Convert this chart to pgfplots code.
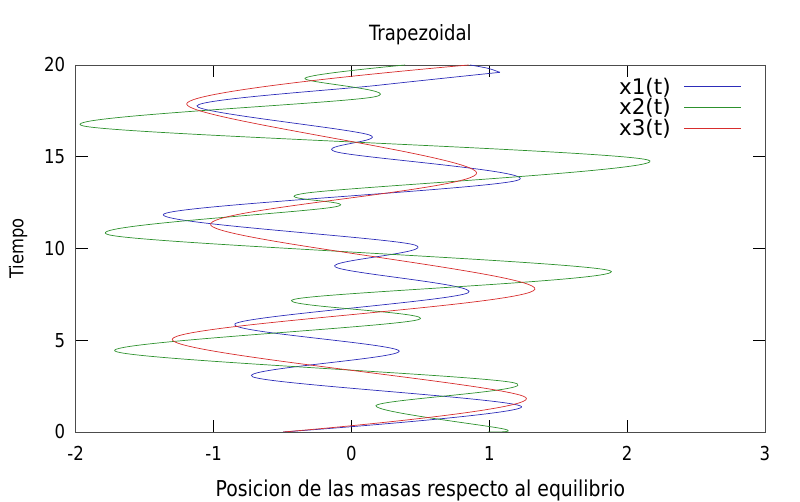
\documentclass[border=0pt]{standalone}
\usepackage{fontspec}
\setmainfont{DejaVu Sans}[FakeStretch=0.86]
\newfontfamily\legfont{DejaVu Sans}
\usepackage{pgfplots}
\pgfplotsset{compat=1.18}
\definecolor{cx1}{RGB}{45,45,185}
\definecolor{cx2}{RGB}{45,145,45}
\definecolor{cx3}{RGB}{215,45,45}
\pgfplotsset{
  legend image code/.code={\path (0pt,0pt); \draw[#1] (11.5pt,0pt) -- (68.5pt,0pt);},
}
\begin{document}
\begin{tikzpicture}
\useasboundingbox (0,0) rectangle (800pt,502pt);
\begin{axis}[
  at={(75.7pt,70pt)}, anchor=south west,
  scale only axis, width=689.3pt, height=367pt,
  xmin=-2, xmax=3, ymin=0, ymax=20,
  xtick={-2,-1,0,1,2,3}, ytick={0,5,10,15,20},
  tick align=inside, major tick length=12pt,
  axis line style={black!70, line width=0.8pt},
  every tick/.style={black, line width=0.6pt},
  /pgf/number format/assume math mode=true,
  ticklabel style={font=\fontsize{19.2}{19.2}\selectfont},
  xticklabel style={yshift=-11pt},
  yticklabel style={xshift=-7pt},
  title={Trapezoidal},
  title style={at={(axis description cs:0.5,1.065)}, anchor=center, font=\fontsize{21}{21}\selectfont},
  xlabel={Posicion de las masas respecto al equilibrio},
  xlabel style={at={(axis description cs:0.5,-0.158)}, anchor=center, font=\fontsize{21.9}{21.9}\selectfont},
  ylabel={Tiempo},
  ylabel style={at={(axis description cs:-0.0837,0.5)}, anchor=center, font=\fontsize{19}{19}\selectfont},
  legend plot pos=right,
  legend cell align=right,
  legend style={at={(rel axis cs:0.966,0.970)}, anchor=north east, draw=none, fill=none,
    font=\legfont\fontsize{21.5}{21.5}\selectfont, inner sep=0pt, row sep=0pt,
    nodes={inner sep=1.5pt}},
  every axis plot/.append style={line width=0.7pt},
]
\addplot[color=cx1, smooth] coordinates {
(-0.495,0) (1.234,1.38) (-0.717,3.01) (0.347,4.41) (-0.845,5.89)
(0.847,7.59) (-0.12,9.01) (0.46,10.19) (-1.36,11.88) (1.21,13.73)
(-0.117,15.28) (0.129,16.19) (-1.12,17.77) (0.2,18.9) (1.077,19.6)
};
\addlegendentry{x1(t)}
\addplot[color=cx2, smooth] coordinates {
(0.99,0) (1.108,0.16) (0.178,1.43) (1.173,2.69) (-1.715,4.41)
(0.484,6.12) (-0.415,7.23) (1.875,8.79) (-1.756,10.74) (-0.112,12.28)
(-0.337,13.01) (2.152,14.82) (-1.945,16.68) (0.17,18.27) (-0.337,19.28)
(0.39,20)
};
\addlegendentry{x2(t)}
\addplot[color=cx3, smooth] coordinates {
(-0.495,0) (1.265,1.88) (-1.30,5.05) (1.331,7.78) (-1.021,11.28)
(0.908,14.13) (-1.195,17.87) (0.85,20)
};
\addlegendentry{x3(t)}
\addplot[color=cx1, smooth, forget plot] coordinates {
(1.077,19.6) (0.99,19.82) (0.86,20)
};
\end{axis}
\end{tikzpicture}
\end{document}
